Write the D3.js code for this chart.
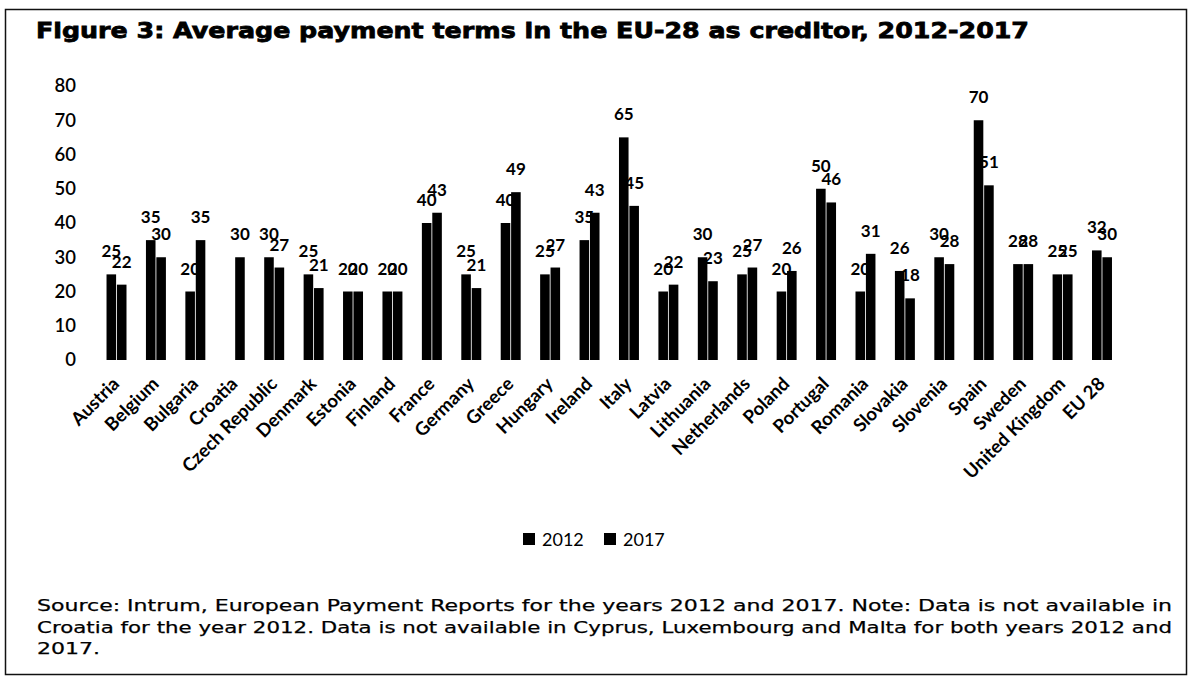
<!DOCTYPE html>
<html>
<head>
<meta charset="utf-8">
<script src="https://cdn.jsdelivr.net/npm/d3@7"></script>
<style>
  html, body { margin: 0; padding: 0; background: #fff; }
  svg { display: block; }
</style>
</head>
<body>
<svg id="chart" width="1192" height="682"></svg>
<script>
// Average payment terms (days), EU-28 as creditor
const countries = ["Austria", "Belgium", "Bulgaria", "Croatia", "Czech Republic", "Denmark",
  "Estonia", "Finland", "France", "Germany", "Greece", "Hungary", "Ireland", "Italy",
  "Latvia", "Lithuania", "Netherlands", "Poland", "Portugal", "Romania", "Slovakia",
  "Slovenia", "Spain", "Sweden", "United Kingdom", "EU 28"];
const years = ["2012", "2017"];
const values2012 = [25, 35, 20, null, 30, 25, 20, 20, 40, 25, 40, 25, 35, 65,
  20, 30, 25, 20, 50, 20, 26, 30, 70, 28, 25, 32];
const values2017 = [22, 30, 35, 30, 27, 21, 20, 20, 43, 21, 49, 27, 43, 45,
  22, 23, 27, 26, 46, 31, 18, 28, 51, 28, 25, 30];
const yTicks = [0, 10, 20, 30, 40, 50, 60, 70, 80];

const titleText = "Figure 3: Average payment terms in the EU-28 as creditor, 2012-2017";
const sourceLines = [
  "Source: Intrum, European Payment Reports for the years 2012 and 2017. Note: Data is not available in",
  "Croatia for the year 2012. Data is not available in Cyprus, Luxembourg and Malta for both years 2012 and",
  "2017."
];

const svg = d3.select("#chart");
const labelFont = "Lato, 'Open Sans', sans-serif";

// frame
svg.append("rect")
  .attr("x", 5.5).attr("y", 9.5)
  .attr("width", 1181).attr("height", 665)
  .attr("fill", "none").attr("stroke", "#111").attr("stroke-width", 1.5);

// title (heavy Verdana-like face)
svg.append("text")
  .attr("x", 36).attr("y", 38)
  .attr("font-family", "'DejaVu Sans', Verdana, sans-serif")
  .attr("font-weight", "bold")
  .attr("font-size", 22)
  .attr("textLength", 993)
  .attr("lengthAdjust", "spacingAndGlyphs")
  .attr("fill", "#000")
  .attr("stroke", "#000")
  .attr("stroke-width", 0.8)
  .text(titleText);

// scales
const x0 = d3.scaleBand().domain(countries).range([96.8, 1121.7]).paddingInner(0).paddingOuter(0);
const x1 = d3.scaleBand().domain(years).range([0, x0.bandwidth()]).paddingInner(0.08).paddingOuter(0.935);
const y = d3.scaleLinear().domain([0, 80]).range([360, 86]);

// y axis labels only (no line, no ticks)
const yAxis = d3.axisLeft(y).tickValues(yTicks).tickSize(0).tickPadding(0);
const yg = svg.append("g").attr("transform", "translate(76,0)").call(yAxis);
yg.select(".domain").remove();
yg.selectAll("text")
  .attr("font-family", labelFont)
  .attr("font-size", 18.5)
  .attr("font-weight", 600)
  .attr("fill", "#000");

// data rows
const rows = countries.map((c, i) => ({ country: c, vals: [
  { year: "2012", v: values2012[i] },
  { year: "2017", v: values2017[i] }
].filter(d => d.v !== null) }));

const groups = svg.append("g").selectAll("g")
  .data(rows).join("g")
  .attr("transform", d => `translate(${x0(d.country)},0)`);

// value labels first so that neighbouring bars sit on top of them
groups.selectAll("text.val")
  .data(d => d.vals).join("text")
  .attr("class", "val")
  .attr("x", d => x1(d.year) + x1.bandwidth() / 2)
  .attr("y", d => y(d.v) - 17)
  .attr("text-anchor", "middle")
  .attr("font-family", labelFont)
  .attr("font-weight", "bold")
  .attr("font-size", 17)
  .attr("fill", "#000")
  .text(d => d.v);

groups.selectAll("rect")
  .data(d => d.vals).join("rect")
  .attr("x", d => x1(d.year))
  .attr("y", d => y(d.v))
  .attr("width", x1.bandwidth())
  .attr("height", d => y(0) - y(d.v))
  .attr("fill", "#000");

// rotated category labels
svg.append("g").selectAll("text")
  .data(countries).join("text")
  .attr("transform", d => `translate(${x0(d) + x0.bandwidth() / 2 + 4},385) rotate(-45)`)
  .attr("text-anchor", "end")
  .attr("font-family", labelFont)
  .attr("font-weight", "bold")
  .attr("font-size", 18.5)
  .attr("fill", "#000")
  .text(d => d);

// legend
const legend = svg.append("g").selectAll("g")
  .data(years).join("g")
  .attr("transform", (d, i) => `translate(${523 + i * 81},533)`);
legend.append("rect").attr("width", 12).attr("height", 12).attr("fill", "#000");
legend.append("text")
  .attr("x", 19).attr("y", 12.5)
  .attr("font-family", labelFont)
  .attr("font-size", 18)
  .attr("fill", "#000")
  .text(d => d);

// source note; first two lines justified across the frame width,
// last line drawn at the same horizontal stretch
const sourceWidth = 1135;
const sourceText = svg.append("g").selectAll("text")
  .data(sourceLines).join("text")
  .attr("x", 37)
  .attr("y", (d, i) => 611 + i * 21.5)
  .attr("font-family", "'DejaVu Sans', Verdana, sans-serif")
  .attr("font-size", 16.5)
  .attr("fill", "#000")
  .attr("stroke", "#000")
  .attr("stroke-width", 0.25)
  .text(d => d);
const naturalWidths = sourceText.nodes().map(n => n.getComputedTextLength());
const stretch = sourceWidth / naturalWidths[0];
sourceText.each(function (d, i) {
  const target = i < 2 ? sourceWidth : naturalWidths[i] * stretch;
  d3.select(this).attr("textLength", target).attr("lengthAdjust", "spacingAndGlyphs");
});
</script>
</body>
</html>
